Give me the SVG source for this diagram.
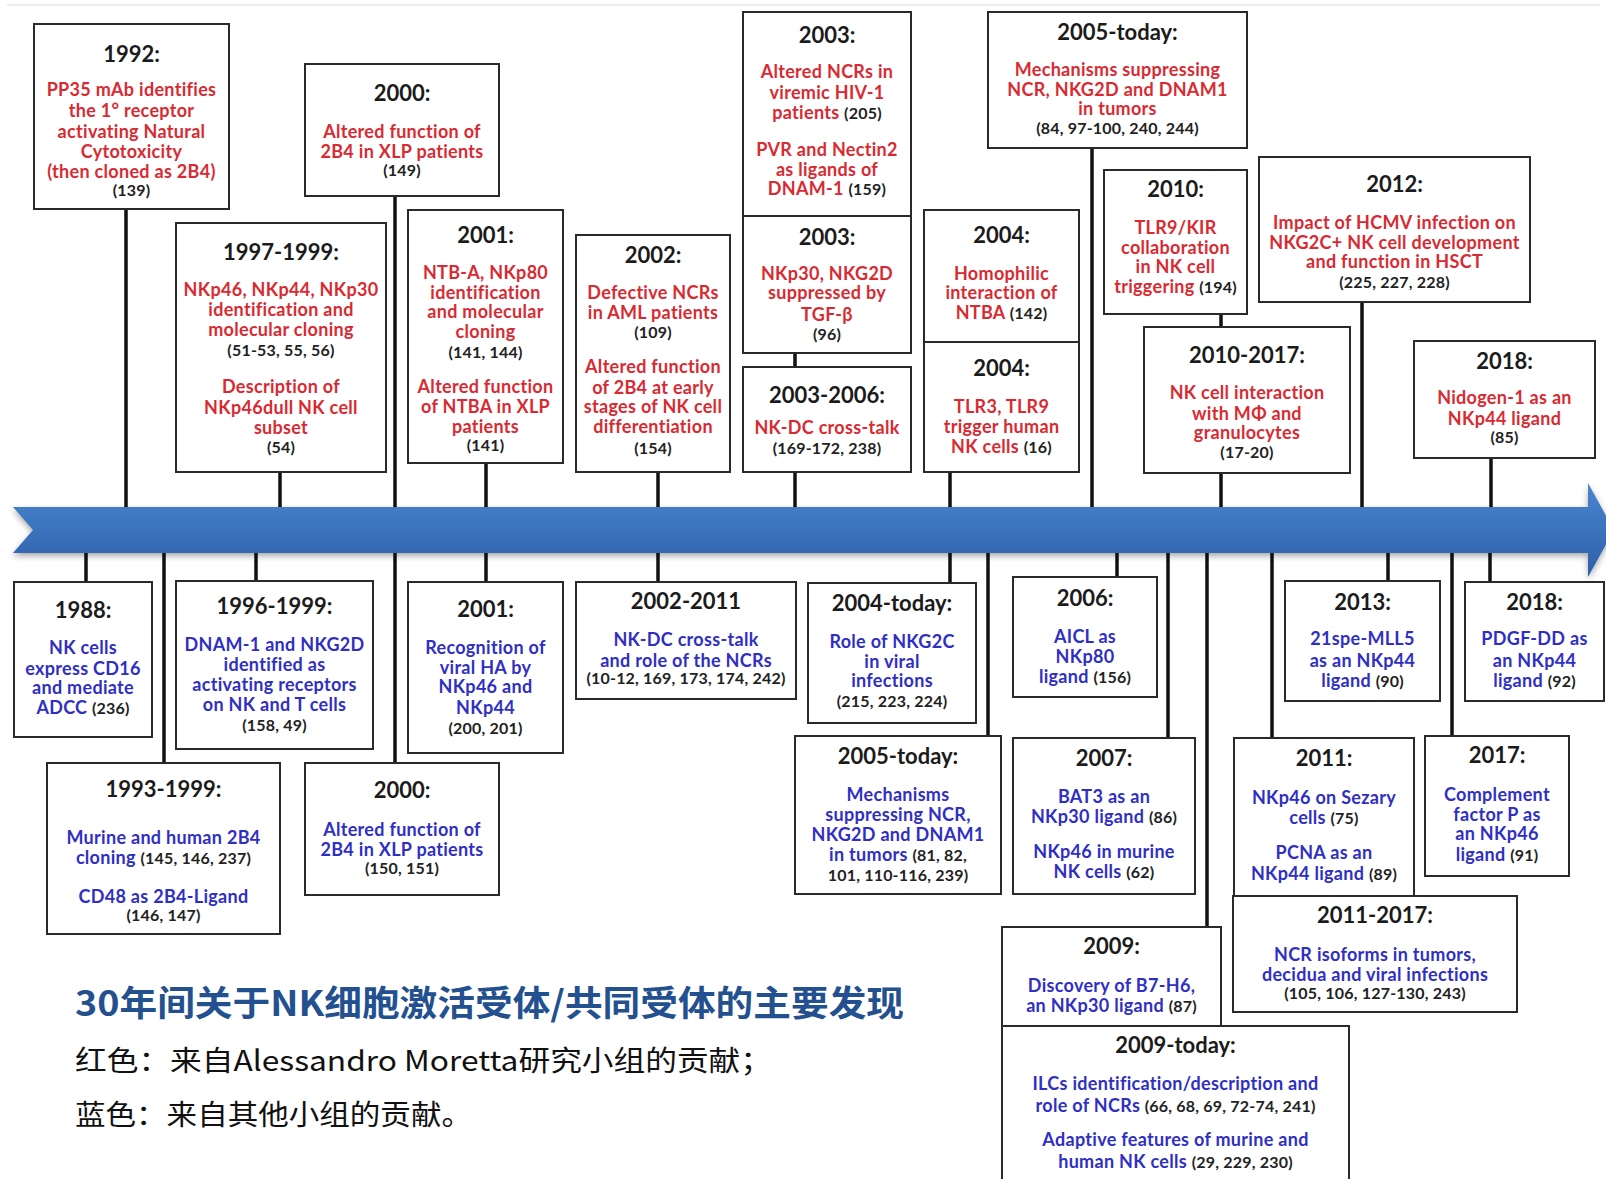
<svg xmlns="http://www.w3.org/2000/svg" width="1606" height="1179" viewBox="0 0 1606 1179">
<style>
text{font-family:Lato,"Liberation Sans",sans-serif;text-anchor:middle;font-weight:700}
.y{font-size:22px;fill:#1b1b1b}
.r{font-size:18px;letter-spacing:0.3px;fill:#d92a32}
.b{font-size:18px;letter-spacing:0.3px;fill:#2f2fc4}
.n,tspan.n{font-size:16px;letter-spacing:0.2px;fill:#222}
.bx{fill:#fff;stroke:#2a2a2a;stroke-width:2}
.c{stroke:#111;stroke-width:3.5;fill:none}
.zh{font-family:"Noto Sans CJK SC","Noto Sans",sans-serif;text-anchor:start;letter-spacing:0}
.zt{font-size:35px;font-weight:700;fill:#23508f}
.zl{font-size:28px;font-weight:400;fill:#111}
</style>
<defs>
<linearGradient id="band" x1="0" y1="0" x2="0" y2="1">
<stop offset="0" stop-color="#4b86cd"/>
<stop offset="0.5" stop-color="#3b73bd"/>
<stop offset="1" stop-color="#2c5fa6"/>
</linearGradient>
<filter id="sh" x="-5%" y="-50%" width="110%" height="200%">
<feDropShadow dx="0" dy="3" stdDeviation="3" flood-color="#000" flood-opacity="0.35"/>
</filter>
</defs>
<rect width="1606" height="1179" fill="#fff"/>
<line x1="7" y1="5" x2="1600" y2="5" stroke="#e6e6e6" stroke-width="1.5"/>

<g id="connectors">
<line class="c" x1="126" y1="209" x2="126" y2="510"/>
<line class="c" x1="395" y1="196" x2="395" y2="510"/>
<line class="c" x1="280" y1="472" x2="280" y2="510"/>
<line class="c" x1="486" y1="463" x2="486" y2="510"/>
<line class="c" x1="658" y1="472" x2="658" y2="510"/>
<line class="c" x1="795" y1="353" x2="795" y2="367"/>
<line class="c" x1="795" y1="472" x2="795" y2="510"/>
<line class="c" x1="950" y1="472" x2="950" y2="510"/>
<line class="c" x1="1092" y1="148" x2="1092" y2="510"/>
<line class="c" x1="1221" y1="314" x2="1221" y2="327"/>
<line class="c" x1="1221" y1="473" x2="1221" y2="510"/>
<line class="c" x1="1362" y1="302" x2="1362" y2="510"/>
<line class="c" x1="1491" y1="458" x2="1491" y2="510"/>
<line class="c" x1="86" y1="550" x2="86" y2="582"/>
<line class="c" x1="164" y1="550" x2="164" y2="763"/>
<line class="c" x1="256" y1="550" x2="256" y2="581"/>
<line class="c" x1="395" y1="550" x2="395" y2="763"/>
<line class="c" x1="486" y1="550" x2="486" y2="582"/>
<line class="c" x1="658" y1="550" x2="658" y2="582"/>
<line class="c" x1="950" y1="550" x2="950" y2="583"/>
<line class="c" x1="988" y1="550" x2="988" y2="736"/>
<line class="c" x1="1117" y1="550" x2="1117" y2="577"/>
<line class="c" x1="1168" y1="550" x2="1168" y2="738"/>
<line class="c" x1="1207" y1="550" x2="1207" y2="927"/>
<line class="c" x1="1272" y1="550" x2="1272" y2="738"/>
<line class="c" x1="1388" y1="550" x2="1388" y2="581"/>
<line class="c" x1="1452" y1="550" x2="1452" y2="736"/>
<line class="c" x1="1490" y1="550" x2="1490" y2="582"/>
</g>

<g id="timeline-arrow">
<polygon points="13,507 1588,507 1588,483 1614,530 1588,577 1588,553 13,553 33,530" fill="url(#band)" filter="url(#sh)"/>
</g>

<g id="n1992">
<rect class="bx" x="34" y="24" width="195" height="185"/>
<text class="y" x="131.5" y="62">1992:</text>
<text class="r" x="131.5" y="96">PP35 mAb identifies</text>
<text class="r" x="131.5" y="117">the 1° receptor</text>
<text class="r" x="131.5" y="138">activating Natural</text>
<text class="r" x="131.5" y="158">Cytotoxicity</text>
<text class="r" x="131.5" y="178">(then cloned as 2B4)</text>
<text class="n" x="131.5" y="196">(139)</text>
</g>

<g id="n2000-top">
<rect class="bx" x="305" y="64" width="194" height="132"/>
<text class="y" x="402" y="101">2000:</text>
<text class="r" x="402" y="138">Altered function of</text>
<text class="r" x="402" y="158">2B4 in XLP patients</text>
<text class="n" x="402" y="176">(149)</text>
</g>

<g id="n1997-1999">
<rect class="bx" x="176" y="223" width="210" height="249"/>
<text class="y" x="281" y="260">1997-1999:</text>
<text class="r" x="281" y="296">NKp46, NKp44, NKp30</text>
<text class="r" x="281" y="316">identification and</text>
<text class="r" x="281" y="336">molecular cloning</text>
<text class="n" x="281" y="356">(51-53, 55, 56)</text>
<text class="r" x="281" y="393">Description of</text>
<text class="r" x="281" y="414">NKp46dull NK cell</text>
<text class="r" x="281" y="434">subset</text>
<text class="n" x="281" y="453">(54)</text>
</g>

<g id="n2001-top">
<rect class="bx" x="408" y="210" width="155" height="253"/>
<text class="y" x="485.5" y="243">2001:</text>
<text class="r" x="485.5" y="279">NTB-A, NKp80</text>
<text class="r" x="485.5" y="299">identification</text>
<text class="r" x="485.5" y="318">and molecular</text>
<text class="r" x="485.5" y="338">cloning</text>
<text class="n" x="485.5" y="358">(141, 144)</text>
<text class="r" x="485.5" y="393">Altered function</text>
<text class="r" x="485.5" y="413">of  NTBA in XLP</text>
<text class="r" x="485.5" y="433">patients</text>
<text class="n" x="485.5" y="451">(141)</text>
</g>

<g id="n2002">
<rect class="bx" x="576" y="235" width="154" height="237"/>
<text class="y" x="653" y="263">2002:</text>
<text class="r" x="653" y="299">Defective NCRs</text>
<text class="r" x="653" y="319">in AML patients</text>
<text class="n" x="653" y="338">(109)</text>
<text class="r" x="653" y="373">Altered function</text>
<text class="r" x="653" y="394">of 2B4  at early</text>
<text class="r" x="653" y="413">stages of NK cell</text>
<text class="r" x="653" y="433">differentiation</text>
<text class="n" x="653" y="454">(154)</text>
</g>

<g id="n2003-a">
<rect class="bx" x="743" y="12" width="168" height="204"/>
<text class="y" x="827" y="43">2003:</text>
<text class="r" x="827" y="78">Altered NCRs in</text>
<text class="r" x="827" y="99">viremic HIV-1</text>
<text class="r" x="827" y="119">patients <tspan class="n">(205)</tspan></text>
<text class="r" x="827" y="156">PVR and Nectin2</text>
<text class="r" x="827" y="176">as ligands of</text>
<text class="r" x="827" y="195">DNAM-1 <tspan class="n">(159)</tspan></text>
</g>

<g id="n2003-b">
<rect class="bx" x="743" y="216" width="168" height="137"/>
<text class="y" x="827" y="245">2003:</text>
<text class="r" x="827" y="280">NKp30, NKG2D</text>
<text class="r" x="827" y="299">suppressed by</text>
<text class="r" x="827" y="321">TGF-β</text>
<text class="n" x="827" y="340">(96)</text>
</g>

<g id="n2003-2006">
<rect class="bx" x="743" y="367" width="168" height="105"/>
<text class="y" x="827" y="403">2003-2006:</text>
<text class="r" x="827" y="434">NK-DC cross-talk</text>
<text class="n" x="827" y="454">(169-172, 238)</text>
</g>

<g id="n2004-a">
<rect class="bx" x="924" y="210" width="155" height="132"/>
<text class="y" x="1001.5" y="243">2004:</text>
<text class="r" x="1001.5" y="280">Homophilic</text>
<text class="r" x="1001.5" y="299">interaction of</text>
<text class="r" x="1001.5" y="319">NTBA <tspan class="n">(142)</tspan></text>
</g>

<g id="n2004-b">
<rect class="bx" x="924" y="342" width="155" height="130"/>
<text class="y" x="1001.5" y="376">2004:</text>
<text class="r" x="1001.5" y="413">TLR3, TLR9</text>
<text class="r" x="1001.5" y="433">trigger human</text>
<text class="r" x="1001.5" y="453">NK cells <tspan class="n">(16)</tspan></text>
</g>

<g id="n2005-today-top">
<rect class="bx" x="988" y="12" width="259" height="136"/>
<text class="y" x="1117.5" y="40">2005-today:</text>
<text class="r" x="1117.5" y="76">Mechanisms suppressing</text>
<text class="r" x="1117.5" y="96">NCR, NKG2D and DNAM1</text>
<text class="r" x="1117.5" y="115">in tumors</text>
<text class="n" x="1117.5" y="134">(84, 97-100, 240, 244)</text>
</g>

<g id="n2010">
<rect class="bx" x="1104" y="170" width="143" height="144"/>
<text class="y" x="1175.5" y="197">2010:</text>
<text class="r" x="1175.5" y="234">TLR9/KIR</text>
<text class="r" x="1175.5" y="254">collaboration</text>
<text class="r" x="1175.5" y="273">in NK cell</text>
<text class="r" x="1175.5" y="293">triggering <tspan class="n">(194)</tspan></text>
</g>

<g id="n2010-2017">
<rect class="bx" x="1144" y="327" width="206" height="146"/>
<text class="y" x="1247" y="363">2010-2017:</text>
<text class="r" x="1247" y="399">NK cell interaction</text>
<text class="r" x="1247" y="420">with MΦ and</text>
<text class="r" x="1247" y="439">granulocytes</text>
<text class="n" x="1247" y="458">(17-20)</text>
</g>

<g id="n2012">
<rect class="bx" x="1259" y="157" width="271" height="145"/>
<text class="y" x="1394.5" y="192">2012:</text>
<text class="r" x="1394.5" y="229">Impact of HCMV infection on</text>
<text class="r" x="1394.5" y="249">NKG2C+ NK cell development</text>
<text class="r" x="1394.5" y="268">and function in HSCT</text>
<text class="n" x="1394.5" y="288">(225, 227, 228)</text>
</g>

<g id="n2018-top">
<rect class="bx" x="1414" y="341" width="181" height="117"/>
<text class="y" x="1504.5" y="369">2018:</text>
<text class="r" x="1504.5" y="404">Nidogen-1 as an</text>
<text class="r" x="1504.5" y="425">NKp44 ligand</text>
<text class="n" x="1504.5" y="443">(85)</text>
</g>

<g id="n1988">
<rect class="bx" x="14" y="582" width="138" height="155"/>
<text class="y" x="83" y="618">1988:</text>
<text class="b" x="83" y="654">NK cells</text>
<text class="b" x="83" y="675">express CD16</text>
<text class="b" x="83" y="694">and mediate</text>
<text class="b" x="83" y="714">ADCC <tspan class="n">(236)</tspan></text>
</g>

<g id="n1993-1999">
<rect class="bx" x="47" y="763" width="233" height="171"/>
<text class="y" x="163.5" y="797">1993-1999:</text>
<text class="b" x="163.5" y="844">Murine and human 2B4</text>
<text class="b" x="163.5" y="864">cloning  <tspan class="n">(145, 146, 237)</tspan></text>
<text class="b" x="163.5" y="903">CD48 as 2B4-Ligand</text>
<text class="n" x="163.5" y="921">(146, 147)</text>
</g>

<g id="n1996-1999">
<rect class="bx" x="176" y="581" width="197" height="168"/>
<text class="y" x="274.5" y="614">1996-1999:</text>
<text class="b" x="274.5" y="651">DNAM-1 and NKG2D</text>
<text class="b" x="274.5" y="671">identified as</text>
<text class="b" x="274.5" y="691">activating receptors</text>
<text class="b" x="274.5" y="711">on NK and T cells</text>
<text class="n" x="274.5" y="731">(158, 49)</text>
</g>

<g id="n2000-bottom">
<rect class="bx" x="305" y="763" width="194" height="132"/>
<text class="y" x="402" y="798">2000:</text>
<text class="b" x="402" y="836">Altered function of</text>
<text class="b" x="402" y="856">2B4 in XLP patients</text>
<text class="n" x="402" y="874">(150, 151)</text>
</g>

<g id="n2001-bottom">
<rect class="bx" x="408" y="582" width="155" height="171"/>
<text class="y" x="485.5" y="617">2001:</text>
<text class="b" x="485.5" y="654">Recognition of</text>
<text class="b" x="485.5" y="674">viral HA by</text>
<text class="b" x="485.5" y="693">NKp46 and</text>
<text class="b" x="485.5" y="714">NKp44</text>
<text class="n" x="485.5" y="734">(200, 201)</text>
</g>

<g id="n2002-2011">
<rect class="bx" x="576" y="582" width="220" height="117"/>
<text class="y" x="686" y="609">2002-2011</text>
<text class="b" x="686" y="646">NK-DC cross-talk</text>
<text class="b" x="686" y="667">and role of the NCRs</text>
<text class="n" x="686" y="684">(10-12, 169, 173, 174, 242)</text>
</g>

<g id="n2004-today">
<rect class="bx" x="808" y="583" width="168" height="140"/>
<text class="y" x="892" y="611">2004-today:</text>
<text class="b" x="892" y="648">Role of NKG2C</text>
<text class="b" x="892" y="668">in viral</text>
<text class="b" x="892" y="687">infections</text>
<text class="n" x="892" y="707">(215, 223, 224)</text>
</g>

<g id="n2005-today-bottom">
<rect class="bx" x="795" y="736" width="206" height="158"/>
<text class="y" x="898" y="764">2005-today:</text>
<text class="b" x="898" y="801">Mechanisms</text>
<text class="b" x="898" y="821">suppressing NCR,</text>
<text class="b" x="898" y="841">NKG2D and DNAM1</text>
<text class="b" x="898" y="861">in tumors <tspan class="n">(81, 82,</tspan></text>
<text class="n" x="898" y="881">101, 110-116, 239)</text>
</g>

<g id="n2006">
<rect class="bx" x="1013" y="577" width="144" height="120"/>
<text class="y" x="1085" y="606">2006:</text>
<text class="b" x="1085" y="643">AICL as</text>
<text class="b" x="1085" y="663">NKp80</text>
<text class="b" x="1085" y="683">ligand <tspan class="n">(156)</tspan></text>
</g>

<g id="n2007">
<rect class="bx" x="1013" y="738" width="182" height="156"/>
<text class="y" x="1104" y="766">2007:</text>
<text class="b" x="1104" y="803">BAT3 as an</text>
<text class="b" x="1104" y="823">NKp30 ligand <tspan class="n">(86)</tspan></text>
<text class="b" x="1104" y="858">NKp46 in murine</text>
<text class="b" x="1104" y="878">NK cells <tspan class="n">(62)</tspan></text>
</g>

<g id="n2009">
<rect class="bx" x="1002" y="927" width="219" height="99"/>
<text class="y" x="1111.5" y="954">2009:</text>
<text class="b" x="1111.5" y="992">Discovery of B7-H6,</text>
<text class="b" x="1111.5" y="1012">an NKp30 ligand <tspan class="n">(87)</tspan></text>
</g>

<g id="n2009-today">
<rect class="bx" x="1002" y="1026" width="347" height="165"/>
<text class="y" x="1175.5" y="1053">2009-today:</text>
<text class="b" x="1175.5" y="1090">ILCs identification/description and</text>
<text class="b" x="1175.5" y="1112">role of NCRs  <tspan class="n">(66, 68, 69, 72-74, 241)</tspan></text>
<text class="b" x="1175.5" y="1146">Adaptive features of murine and</text>
<text class="b" x="1175.5" y="1168">human NK cells <tspan class="n">(29, 229, 230)</tspan></text>
</g>

<g id="n2013">
<rect class="bx" x="1285" y="581" width="155" height="120"/>
<text class="y" x="1362.5" y="610">2013:</text>
<text class="b" x="1362.5" y="645">21spe-MLL5</text>
<text class="b" x="1362.5" y="667">as an NKp44</text>
<text class="b" x="1362.5" y="687">ligand <tspan class="n">(90)</tspan></text>
</g>

<g id="n2018-bottom">
<rect class="bx" x="1465" y="582" width="139" height="119"/>
<text class="y" x="1534.5" y="610">2018:</text>
<text class="b" x="1534.5" y="645">PDGF-DD as</text>
<text class="b" x="1534.5" y="667">an NKp44</text>
<text class="b" x="1534.5" y="687">ligand <tspan class="n">(92)</tspan></text>
</g>

<g id="n2011">
<rect class="bx" x="1234" y="738" width="180" height="158"/>
<text class="y" x="1324" y="766">2011:</text>
<text class="b" x="1324" y="804">NKp46 on Sezary</text>
<text class="b" x="1324" y="824">cells <tspan class="n">(75)</tspan></text>
<text class="b" x="1324" y="859">PCNA as an</text>
<text class="b" x="1324" y="880">NKp44 ligand <tspan class="n">(89)</tspan></text>
</g>

<g id="n2017">
<rect class="bx" x="1425" y="736" width="144" height="140"/>
<text class="y" x="1497" y="763">2017:</text>
<text class="b" x="1497" y="801">Complement</text>
<text class="b" x="1497" y="821">factor P as</text>
<text class="b" x="1497" y="840">an NKp46</text>
<text class="b" x="1497" y="861">ligand <tspan class="n">(91)</tspan></text>
</g>

<g id="n2011-2017">
<rect class="bx" x="1233" y="896" width="284" height="116"/>
<text class="y" x="1375" y="923">2011-2017:</text>
<text class="b" x="1375" y="961">NCR isoforms in tumors,</text>
<text class="b" x="1375" y="981">decidua and viral infections</text>
<text class="n" x="1375" y="999">(105, 106, 127-130, 243)</text>
</g>

<g id="caption">
<text class="zh zt" x="75" y="1016" textLength="829" lengthAdjust="spacingAndGlyphs">30年间关于NK细胞激活受体/共同受体的主要发现</text>
<text class="zh zl" x="75" y="1071" textLength="697" lengthAdjust="spacingAndGlyphs">红色：来自Alessandro Moretta研究小组的贡献；</text>
<text class="zh zl" x="75" y="1125" textLength="397" lengthAdjust="spacingAndGlyphs">蓝色：来自其他小组的贡献。</text>
</g>
</svg>
